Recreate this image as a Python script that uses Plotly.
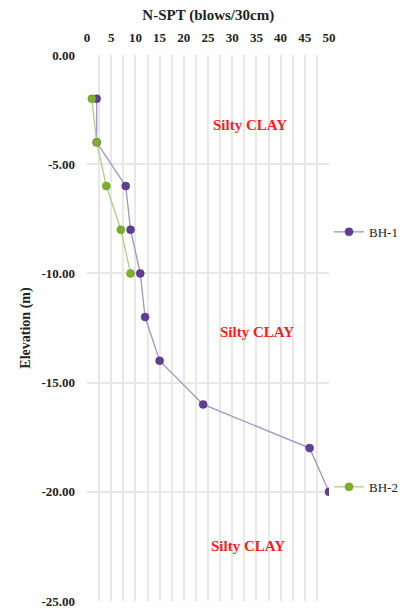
import plotly.graph_objects as go

# SPT blow counts against elevation for two boreholes
bh1_n = [2, 2, 8, 9, 11, 12, 15, 24, 46, 50]
bh1_elev = [-2, -4, -6, -8, -10, -12, -14, -16, -18, -20]
bh2_n = [1, 2, 4, 7, 9]
bh2_elev = [-2, -4, -6, -8, -10]

x_ticks = [0, 5, 10, 15, 20, 25, 30, 35, 40, 45, 50]
y_ticks = [0, -5, -10, -15, -20, -25]
y_tick_text = ["0.00", "-5.00", "-10.00", "-15.00", "-20.00", "-25.00"]

layer_labels = ["Silty CLAY", "Silty CLAY", "Silty CLAY"]
layer_x = [33.7, 35.1, 33.3]
layer_y = [-3.2, -12.7, -22.5]

SERIF = "Liberation Serif, Times New Roman, serif"
GRID = "#e8e8e8"

fig = go.Figure()
fig.add_trace(go.Scatter(
    x=bh1_n, y=bh1_elev, mode="lines+markers", name="BH-1",
    line=dict(color="#a094c8", width=1.3),
    marker=dict(size=8, color="#5e3f93", line=dict(color="#4a2f7a", width=0.5)),
    legend="legend",
))
fig.add_trace(go.Scatter(
    x=bh2_n, y=bh2_elev, mode="lines+markers", name="BH-2",
    line=dict(color="#add07e", width=1.3),
    marker=dict(size=8, color="#7daf2c", line=dict(color="#67951f", width=0.5)),
    legend="legend2",
))

for txt, lx, ly in zip(layer_labels, layer_x, layer_y):
    fig.add_annotation(x=lx, y=ly, text=txt, showarrow=False,
                       font=dict(family=SERIF, size=15, color="#ff1a1a", weight="bold"))

legend_style = dict(xanchor="left", yanchor="middle",
                    font=dict(family=SERIF, size=13, color="#222222"),
                    bgcolor="rgba(0,0,0,0)", itemwidth=30)

fig.update_layout(
    width=406, height=609,
    margin=dict(l=87, r=77, t=55, b=8, autoexpand=False),
    paper_bgcolor="white", plot_bgcolor="white",
    font=dict(family=SERIF, color="#222222"),
    title=dict(text="<b>N-SPT (blows/30cm)</b>", x=0.513, xanchor="center",
               y=0.975, yanchor="middle",
               font=dict(family=SERIF, size=15, color="#222222")),
    legend=dict(x=1.0, y=0.676, **legend_style),
    legend2=dict(x=1.0, y=0.209, **legend_style),
    showlegend=True,
)

fig.update_xaxes(
    side="top", range=[0, 50], tickvals=x_ticks,
    showgrid=True, gridcolor=GRID, gridwidth=1.5,
    minor=dict(dtick=2.5, tick0=0, showgrid=True, gridcolor=GRID, gridwidth=1.5),
    zeroline=False, showline=False, ticks="", ticklabelstandoff=9,
    tickfont=dict(family=SERIF, size=13, color="#222222", weight="bold"),
)
fig.update_yaxes(
    range=[-25, 0], tickvals=y_ticks, ticktext=y_tick_text,
    showgrid=True, gridcolor=GRID, gridwidth=1.5,
    zeroline=False, showline=False, ticks="", ticklabelstandoff=11,
    tickfont=dict(family=SERIF, size=13, color="#222222", weight="bold"),
    title=dict(text="<b>Elevation (m)</b>", standoff=7,
               font=dict(family=SERIF, size=14, color="#222222")),
)

fig.write_html("out.html")
